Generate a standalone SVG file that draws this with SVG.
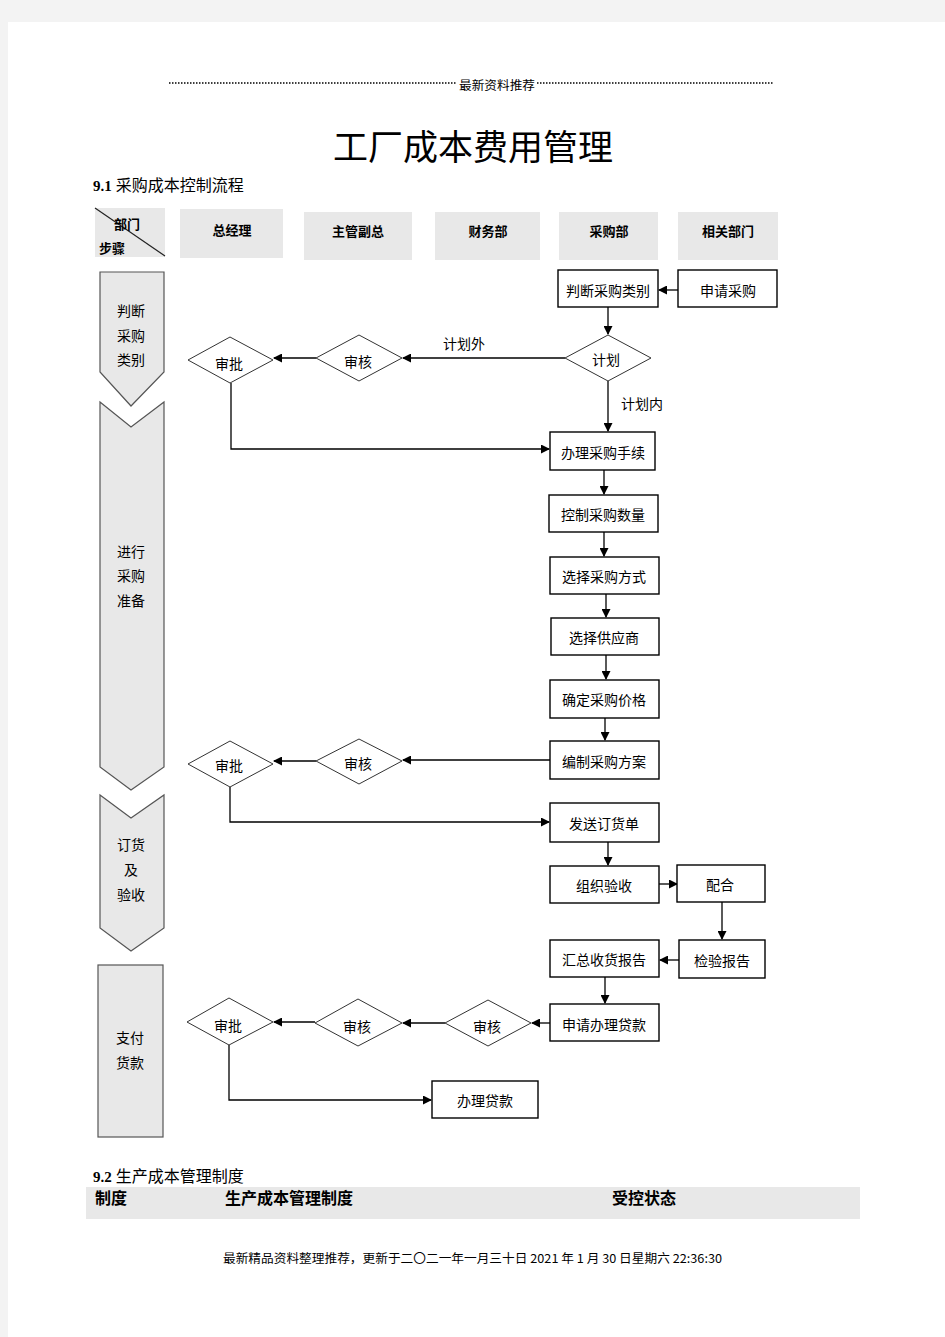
<svg xmlns="http://www.w3.org/2000/svg" width="945" height="1337" viewBox="0 0 945 1337">
<style>
.t{font-family:"Noto Sans CJK SC","Liberation Sans",sans-serif;font-size:14px;fill:#000;text-anchor:middle;dominant-baseline:central}
.h{font-family:"Liberation Serif","Noto Sans CJK SC",serif;font-size:13px;font-weight:bold;fill:#000;text-anchor:middle;dominant-baseline:central}
.s{font-family:"Liberation Serif","Noto Sans CJK SC",serif;font-size:16px;fill:#000}
.b{fill:#fff;stroke:#000;stroke-width:1.4}
.d{fill:#fff;stroke:#333;stroke-width:1}
.st{fill:#e8e8e8;stroke:#555;stroke-width:1.2}
.hd{fill:#e8e8e8}
.c{fill:none;stroke:#000;stroke-width:1.3}
</style>
<defs>
<marker id="ar" markerWidth="9" markerHeight="9" refX="8" refY="4.5" orient="auto" markerUnits="userSpaceOnUse">
<path d="M0,0 L9,4.5 L0,9 Z" fill="#000"/>
</marker>
</defs>
<rect x="0" y="0" width="945" height="1337" fill="#f3f3f3"/>
<rect x="8" y="22" width="937" height="1315" fill="#fff"/>

<g id="page-header">
<line x1="169" y1="83" x2="457" y2="83" stroke="#000" stroke-width="1.5" stroke-dasharray="1.5 1.5"/>
<text x="497" y="84" font-family="Noto Sans CJK SC, sans-serif" font-size="12" text-anchor="middle" dominant-baseline="central" textLength="76" lengthAdjust="spacingAndGlyphs">最新资料推荐</text>
<line x1="537" y1="83" x2="773" y2="83" stroke="#000" stroke-width="1.5" stroke-dasharray="1.5 1.5"/>
<text x="473" y="160" font-family="Liberation Serif, Noto Sans CJK SC, serif" font-size="35" text-anchor="middle" textLength="280" lengthAdjust="spacingAndGlyphs">工厂成本费用管理</text>
<text x="93" y="191" class="s"><tspan font-weight="bold" font-size="15">9.1</tspan> 采购成本控制流程</text>
</g>

<g id="col-headers">
<rect class="hd" x="95" y="208" width="70" height="49"/>
<line x1="95" y1="208" x2="165" y2="256" stroke="#222" stroke-width="1.2"/>
<text class="h" x="127" y="224">部门</text>
<text class="h" x="112" y="248">步骤</text>
<rect class="hd" x="180" y="209" width="103" height="49"/>
<text class="h" x="232" y="230">总经理</text>
<rect class="hd" x="304" y="212" width="108" height="48"/>
<text class="h" x="358" y="231">主管副总</text>
<rect class="hd" x="435" y="212" width="105" height="48"/>
<text class="h" x="488" y="231">财务部</text>
<rect class="hd" x="559" y="212" width="99" height="48"/>
<text class="h" x="609" y="231">采购部</text>
<rect class="hd" x="678" y="212" width="100" height="48"/>
<text class="h" x="728" y="231">相关部门</text>
</g>

<g id="step-1">
<path class="st" d="M100,272 L164,272 L164,372 L131,406 L100,372 Z"/>
<text class="t" x="131" y="310">判断</text>
<text class="t" x="131" y="335">采购</text>
<text class="t" x="131" y="359">类别</text>
</g>
<g id="step-2">
<path class="st" d="M100,402 L131,427 L164,402 L164,767 L131,790 L100,767 Z"/>
<text class="t" x="131" y="551">进行</text>
<text class="t" x="131" y="575">采购</text>
<text class="t" x="131" y="600">准备</text>
</g>
<g id="step-3">
<path class="st" d="M100,795 L131,818 L164,795 L164,928 L131,951 L100,928 Z"/>
<text class="t" x="131" y="844">订货</text>
<text class="t" x="131" y="869">及</text>
<text class="t" x="131" y="894">验收</text>
</g>
<g id="step-4">
<rect class="st" x="98" y="965" width="65" height="172"/>
<text class="t" x="130" y="1037">支付</text>
<text class="t" x="130" y="1062">货款</text>
</g>

<g id="connectors">
<line class="c" x1="678" y1="290" x2="659" y2="290" marker-end="url(#ar)"/>
<line class="c" x1="608" y1="307" x2="608" y2="334" marker-end="url(#ar)"/>
<line class="c" x1="565" y1="358" x2="403" y2="358" marker-end="url(#ar)"/>
<line class="c" x1="316" y1="358" x2="274" y2="358" marker-end="url(#ar)"/>
<polyline class="c" points="231,383 231,449 549,449" marker-end="url(#ar)"/>
<line class="c" x1="608" y1="381" x2="608" y2="431" marker-end="url(#ar)"/>
<line class="c" x1="604" y1="470" x2="604" y2="494" marker-end="url(#ar)"/>
<line class="c" x1="604" y1="532" x2="604" y2="556" marker-end="url(#ar)"/>
<line class="c" x1="606" y1="594" x2="606" y2="617" marker-end="url(#ar)"/>
<line class="c" x1="606" y1="655" x2="606" y2="679" marker-end="url(#ar)"/>
<line class="c" x1="605" y1="718" x2="605" y2="740" marker-end="url(#ar)"/>
<line class="c" x1="550" y1="760" x2="403" y2="760" marker-end="url(#ar)"/>
<line class="c" x1="316" y1="761" x2="274" y2="761" marker-end="url(#ar)"/>
<polyline class="c" points="230,787 230,822 549,822" marker-end="url(#ar)"/>
<line class="c" x1="608" y1="842" x2="608" y2="865" marker-end="url(#ar)"/>
<line class="c" x1="659" y1="884" x2="677" y2="884" marker-end="url(#ar)"/>
<line class="c" x1="722" y1="902" x2="722" y2="939" marker-end="url(#ar)"/>
<line class="c" x1="679" y1="960" x2="660" y2="960" marker-end="url(#ar)"/>
<line class="c" x1="605" y1="977" x2="605" y2="1003" marker-end="url(#ar)"/>
<line class="c" x1="550" y1="1023" x2="532" y2="1023" marker-end="url(#ar)"/>
<line class="c" x1="445" y1="1023" x2="403" y2="1023" marker-end="url(#ar)"/>
<line class="c" x1="315" y1="1022" x2="274" y2="1022" marker-end="url(#ar)"/>
<polyline class="c" points="229,1045 229,1100 431,1100" marker-end="url(#ar)"/>
<text class="t" x="464" y="343">计划外</text>
<text class="t" x="642" y="403">计划内</text>
</g>

<g id="n-judge"><rect class="b" x="558" y="270" width="100" height="37"/><text class="t" x="608" y="290">判断采购类别</text></g>
<g id="n-apply"><rect class="b" x="678" y="270" width="99" height="37"/><text class="t" x="728" y="290">申请采购</text></g>
<g id="n-plan"><path class="d" d="M608,335 L651,358 L608,381 L565,358 Z"/><text class="t" x="606" y="359">计划</text></g>
<g id="n-review1"><path class="d" d="M359,335 L402,358 L359,381 L316,358 Z"/><text class="t" x="358" y="361">审核</text></g>
<g id="n-approve1"><path class="d" d="M230,337 L273,360 L230,383 L188,360 Z"/><text class="t" x="229" y="363">审批</text></g>
<g id="n-proc"><rect class="b" x="550" y="432" width="105" height="38" stroke-width="2"/><text class="t" x="603" y="452">办理采购手续</text></g>
<g id="n-qty"><rect class="b" x="549" y="495" width="109" height="37"/><text class="t" x="603" y="514">控制采购数量</text></g>
<g id="n-mode"><rect class="b" x="550" y="557" width="109" height="37" stroke-width="2"/><text class="t" x="604" y="576">选择采购方式</text></g>
<g id="n-supplier"><rect class="b" x="551" y="618" width="108" height="37"/><text class="t" x="604" y="637">选择供应商</text></g>
<g id="n-price"><rect class="b" x="550" y="680" width="109" height="38" stroke-width="2"/><text class="t" x="604" y="699">确定采购价格</text></g>
<g id="n-planbook"><rect class="b" x="550" y="741" width="109" height="38"/><text class="t" x="604" y="761">编制采购方案</text></g>
<g id="n-review2"><path class="d" d="M359,739 L402,761 L359,784 L316,761 Z"/><text class="t" x="358" y="763">审核</text></g>
<g id="n-approve2"><path class="d" d="M230,741 L273,764 L230,787 L188,764 Z"/><text class="t" x="229" y="765">审批</text></g>
<g id="n-order"><rect class="b" x="550" y="803" width="109" height="39" stroke-width="2"/><text class="t" x="604" y="823">发送订货单</text></g>
<g id="n-accept"><rect class="b" x="550" y="866" width="109" height="37" stroke-width="2"/><text class="t" x="604" y="885">组织验收</text></g>
<g id="n-coop"><rect class="b" x="677" y="865" width="88" height="37"/><text class="t" x="720" y="884">配合</text></g>
<g id="n-inspect"><rect class="b" x="679" y="940" width="86" height="38" stroke-width="2"/><text class="t" x="722" y="960">检验报告</text></g>
<g id="n-summary"><rect class="b" x="550" y="940" width="109" height="37"/><text class="t" x="604" y="959">汇总收货报告</text></g>
<g id="n-loan"><rect class="b" x="550" y="1004" width="109" height="37"/><text class="t" x="604" y="1024">申请办理贷款</text></g>
<g id="n-review3"><path class="d" d="M488,1000 L531,1023 L488,1046 L445,1023 Z"/><text class="t" x="487" y="1026">审核</text></g>
<g id="n-review4"><path class="d" d="M358,999 L402,1023 L358,1046 L315,1023 Z"/><text class="t" x="357" y="1026">审核</text></g>
<g id="n-approve3"><path class="d" d="M229,998 L273,1022 L229,1045 L187,1022 Z"/><text class="t" x="228" y="1025">审批</text></g>
<g id="n-doloan"><rect class="b" x="432" y="1081" width="106" height="37"/><text class="t" x="485" y="1100">办理贷款</text></g>

<g id="section-92">
<text x="93" y="1182" class="s"><tspan font-weight="bold" font-size="15">9.2</tspan> 生产成本管理制度</text>
<rect class="hd" x="86" y="1187" width="774" height="32"/>
<text x="95" y="1204" class="s" font-weight="bold">制度</text>
<text x="225" y="1204" class="s" font-weight="bold">生产成本管理制度</text>
<text x="612" y="1204" class="s" font-weight="bold">受控状态</text>
</g>

<g id="page-footer">
<text x="223" y="1263" font-family="Noto Sans CJK SC, Liberation Mono, monospace" font-size="12" textLength="499" lengthAdjust="spacingAndGlyphs">最新精品资料整理推荐，更新于二〇二一年一月三十日 2021 年 1 月 30 日星期六 22:36:30</text>
</g>
</svg>
